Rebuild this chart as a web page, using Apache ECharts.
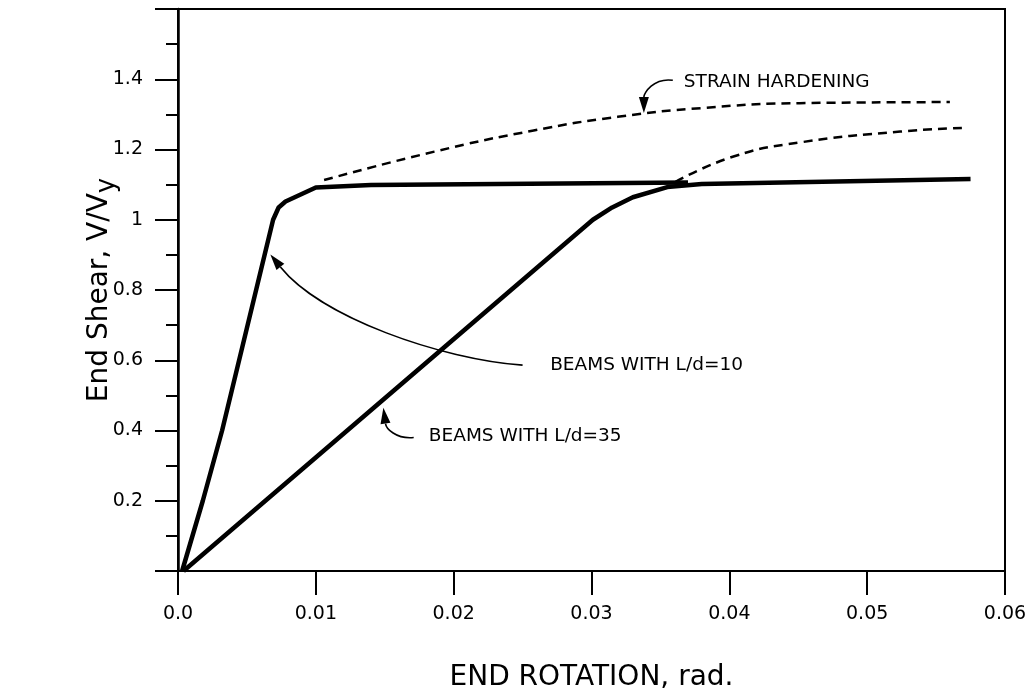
<!DOCTYPE html>
<html>
<head>
<meta charset="utf-8">
<script src="https://cdn.jsdelivr.net/npm/echarts@6/dist/echarts.min.js"></script>
<style>
  html, body { margin: 0; padding: 0; background: #fff; }
  #chart { width: 1033px; height: 697px; }
</style>
</head>
<body>
<div id="chart"></div>
<script>
// 曲线数据 (转角 rad, V/Vy)
const beamL10 = [
  [0.0003, 0], [0.0018, 0.2], [0.0032, 0.4], [0.0069, 1.0], [0.0073, 1.035],
  [0.0078, 1.052], [0.0100, 1.092], [0.0140, 1.099], [0.0370, 1.106]
]
const beamL35 = [
  [0.0004, 0], [0.0301, 1.0], [0.0315, 1.035], [0.0330, 1.064], [0.0355, 1.093],
  [0.0380, 1.102], [0.0575, 1.116]
]
const hardeningL10 = [
  [0.0106, 1.113], [0.0186, 1.194], [0.0258, 1.254], [0.0319, 1.293],
  [0.0380, 1.318], [0.0451, 1.332], [0.0560, 1.335]
]
const hardeningL35 = [
  [0.0361, 1.108], [0.0403, 1.180], [0.0451, 1.220],
  [0.0524, 1.251], [0.0573, 1.262]
]

// 注释文字
const labelHardening = 'STRAIN HARDENING'
const labelL10 = 'BEAMS WITH L/d=10'
const labelL35 = 'BEAMS WITH L/d=35'

const chart = echarts.init(document.getElementById('chart'))
const font = 'DejaVu Sans'

const option = {
  backgroundColor: '#fff',
  animation: false,
  grid: {
    left: 178, right: 28, top: 9, bottom: 121,
    show: true, borderColor: '#000', borderWidth: 2
  },
  xAxis: {
    type: 'value',
    min: 0, max: 0.06, interval: 0.01,
    name: 'END ROTATION, rad.',
    nameLocation: 'middle',
    nameGap: 93,
    nameTextStyle: { color: '#000', fontFamily: font, fontSize: 28 },
    axisLine: { lineStyle: { color: '#000', width: 2 } },
    axisTick: { inside: false, length: 24, lineStyle: { color: '#000', width: 2 } },
    axisLabel: {
      color: '#000', fontFamily: font, fontSize: 19, margin: 34,
      formatter: v => v === 0 ? '0.0' : v.toFixed(2)
    },
    splitLine: { show: false }
  },
  yAxis: {
    type: 'value',
    min: 0, max: 1.6, interval: 0.2,
    name: '{t|End Shear, V/V}{s|y}',
    nameLocation: 'middle',
    nameGap: 58,
    nameMoveOverlap: false,
    nameRotate: 90,
    nameTextStyle: {
      rich: {
        t: { color: '#000', fontFamily: font, fontSize: 28 },
        s: { color: '#000', fontFamily: font, fontSize: 26, padding: [14, 0, 0, 0] }
      }
    },
    axisLine: { lineStyle: { color: '#000', width: 2.5 } },
    axisTick: { inside: false, length: 23, lineStyle: { color: '#000', width: 2 } },
    minorTick: { show: true, splitNumber: 2, length: 12, lineStyle: { color: '#000', width: 2 } },
    axisLabel: {
      color: '#000', fontFamily: font, fontSize: 19, margin: 35,
      formatter: v => (v === 0 || v > 1.5) ? '' : (Math.abs(v - 1) < 1e-9 ? '1' : v.toFixed(1))
    },
    splitLine: { show: false }
  },
  series: [
    {
      name: 'L/d=10', type: 'line', data: beamL10, showSymbol: false,
      lineStyle: { color: '#000', width: 4.5 }, z: 3
    },
    {
      name: 'L/d=35', type: 'line', data: beamL35, showSymbol: false,
      lineStyle: { color: '#000', width: 4.5 }, z: 3
    },
    {
      name: '应变强化 L/d=10', type: 'line', data: hardeningL10, showSymbol: false,
      smooth: 0.5,
      lineStyle: { color: '#000', width: 2.5, type: [9, 6] }
    },
    {
      name: '应变强化 L/d=35', type: 'line', data: hardeningL35, showSymbol: false,
      smooth: 0.5,
      lineStyle: { color: '#000', width: 2.5, type: [9, 6] }
    }
  ]
}
chart.setOption(option)

// 注释：曲线箭头 + 文字，位置用数据坐标换算
const toPx = p => chart.convertToPixel({ gridIndex: 0 }, p)

function arrow(pts) {
  const [p0, c1, c2, p3] = pts.map(toPx)
  const dx = p3[0] - c2[0], dy = p3[1] - c2[1]
  const len = Math.hypot(dx, dy) || 1
  const ux = dx / len, uy = dy / len
  const bx = p3[0] - ux * 16, by = p3[1] - uy * 16
  return [
    {
      type: 'bezierCurve',
      shape: { x1: p0[0], y1: p0[1], cpx1: c1[0], cpy1: c1[1], cpx2: c2[0], cpy2: c2[1], x2: bx, y2: by },
      style: { stroke: '#000', lineWidth: 1.6, fill: null }
    },
    {
      type: 'polygon',
      shape: { points: [p3, [bx - uy * 5, by + ux * 5], [bx + uy * 5, by - ux * 5]] },
      style: { fill: '#000' }
    }
  ]
}

function label(text, pos) {
  const p = toPx(pos)
  return {
    type: 'text', x: p[0], y: p[1],
    style: { text, fill: '#000', font: '18.5px "DejaVu Sans"', verticalAlign: 'middle' }
  }
}

chart.setOption({
  graphic: [
    ...arrow([[0.0359, 1.397], [0.0345, 1.405], [0.0338, 1.36], [0.0338, 1.304]]),
    ...arrow([[0.0250, 0.586], [0.0191, 0.603], [0.0104, 0.721], [0.0067, 0.901]]),
    ...arrow([[0.0171, 0.380], [0.0158, 0.375], [0.0151, 0.406], [0.0149, 0.465]]),
    label(labelHardening, [0.0367, 1.393]),
    label(labelL10, [0.0270, 0.586]),
    label(labelL35, [0.0182, 0.383])
  ]
})

window.addEventListener('resize', () => chart.resize())
</script>
</body>
</html>
